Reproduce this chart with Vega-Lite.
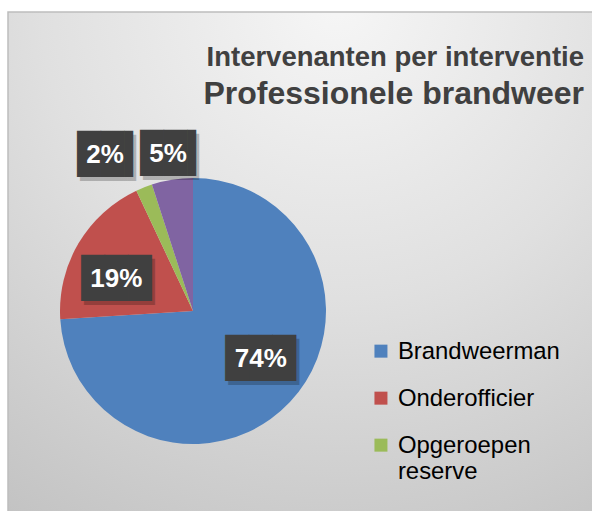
{
  "$schema": "https://vega.github.io/schema/vega-lite/v6.json",
  "width": 370,
  "height": 400,
  "autosize": {"type": "none"},
  "padding": {"left": 8, "top": 111, "right": 214, "bottom": 0},
  "background": "white",
  "config": {"view": {"stroke": null}, "font": "Liberation Sans"},
  "title": {
    "text": "Intervenanten per interventie",
    "subtitle": "Professionele brandweer",
    "anchor": "end",
    "frame": "group",
    "dx": 206,
    "offset": -99,
    "font": "Liberation Sans",
    "fontSize": 27.5,
    "fontWeight": "bold",
    "color": "#404040",
    "subtitleFont": "Liberation Sans",
    "subtitleFontSize": 32,
    "subtitleFontWeight": "bold",
    "subtitleColor": "#404040",
    "subtitlePadding": 8
  },
  "layer": [
    {
      "data": {"values": [{"achtergrond": "kader"}]},
      "mark": {
        "type": "rect",
        "x": 0, "x2": 600, "y": -99, "y2": 420,
        "stroke": "#bdbdbd",
        "strokeWidth": 1.5,
        "color": {
          "gradient": "radial",
          "x1": 0.55, "y1": 0.05, "r1": 0,
          "x2": 0.55, "y2": 0.05, "r2": 1.1,
          "stops": [
            {"offset": 0, "color": "#f6f6f6"},
            {"offset": 0.45, "color": "#e0e0e0"},
            {"offset": 1, "color": "#bebebe"}
          ]
        }
      },
      "encoding": {}
    },
    {
      "data": {"values": [
        {"categorie": "Brandweerman", "aandeel": 0.74},
        {"categorie": "Onderofficier", "aandeel": 0.19},
        {"categorie": "Opgeroepen reserve", "aandeel": 0.02},
        {"categorie": "Officier", "aandeel": 0.05}
      ]},
      "transform": [{"window": [{"op": "row_number", "as": "rij"}]}],
      "encoding": {
        "theta": {"field": "aandeel", "type": "quantitative", "stack": true},
        "order": {"field": "rij", "type": "quantitative"}
      },
      "layer": [
        {
          "mark": {"type": "arc", "outerRadius": 133},
          "encoding": {
            "color": {
              "field": "categorie",
              "type": "nominal",
              "scale": {
                "domain": ["Brandweerman", "Onderofficier", "Opgeroepen reserve", "Officier"],
                "range": ["#4f81bd", "#c0504d", "#9bbb59", "#8064a2"]
              },
              "legend": {
                "values": ["Brandweerman", "Onderofficier", "Opgeroepen reserve"],
                "title": null,
                "orient": "none",
                "legendX": 361,
                "legendY": 236,
                "padding": 0,
                "symbolType": "M-1,-2.2L1,-2.2L1,-0.2L-1,-0.2Z",
                "symbolSize": 169,
                "symbolStrokeWidth": 0,
                "labelFont": "Liberation Sans",
                "labelFontSize": 23.9,
                "labelColor": "#000000",
                "labelBaseline": "alphabetic",
                "labelOffset": 5,
                "labelLimit": 300,
                "rowPadding": 22,
                "labelExpr": "datum.label == 'Opgeroepen reserve' ? ['Opgeroepen', 'reserve'] : datum.label"
              }
            }
          }
        },
        {
          "mark": {"type": "text", "radius": 83, "thetaOffset": -0.14, "dx": 3, "dy": 4, "font": "DejaVu Sans Mono", "fontSize": 39, "color": "#000000", "opacity": 0.22, "baseline": "middle", "align": "center"},
          "encoding": {"text": {"condition": {"test": "datum.aandeel >= 0.1", "value": "███"}, "value": ""}}
        },
        {
          "mark": {"type": "text", "radius": 179, "thetaOffset": -0.136, "dx": 10.3, "dy": 4, "font": "DejaVu Sans Mono", "fontSize": 39, "color": "#000000", "opacity": 0.22, "baseline": "middle", "align": "center"},
          "encoding": {"text": {"condition": {"test": "datum.categorie == 'Opgeroepen reserve'", "value": "██▍"}, "value": ""}}
        },
        {
          "mark": {"type": "text", "radius": 159, "thetaOffset": 0.0, "dx": 10.3, "dy": 4, "font": "DejaVu Sans Mono", "fontSize": 39, "color": "#000000", "opacity": 0.22, "baseline": "middle", "align": "center"},
          "encoding": {"text": {"condition": {"test": "datum.categorie == 'Officier'", "value": "██▍"}, "value": ""}}
        },
        {
          "mark": {"type": "text", "radius": 83, "thetaOffset": -0.14, "font": "DejaVu Sans Mono", "fontSize": 39, "color": "#404040", "baseline": "middle", "align": "center"},
          "encoding": {"text": {"condition": {"test": "datum.aandeel >= 0.1", "value": "███"}, "value": ""}}
        },
        {
          "mark": {"type": "text", "radius": 179, "thetaOffset": -0.136, "dx": 7.3, "font": "DejaVu Sans Mono", "fontSize": 39, "color": "#404040", "baseline": "middle", "align": "center"},
          "encoding": {"text": {"condition": {"test": "datum.categorie == 'Opgeroepen reserve'", "value": "██▍"}, "value": ""}}
        },
        {
          "mark": {"type": "text", "radius": 159, "thetaOffset": 0.0, "dx": 7.3, "font": "DejaVu Sans Mono", "fontSize": 39, "color": "#404040", "baseline": "middle", "align": "center"},
          "encoding": {"text": {"condition": {"test": "datum.categorie == 'Officier'", "value": "██▍"}, "value": ""}}
        },
        {
          "mark": {"type": "text", "radius": 83, "thetaOffset": -0.14, "font": "Liberation Sans", "fontWeight": "bold", "fontSize": 26, "color": "#ffffff", "baseline": "middle", "align": "center"},
          "encoding": {"text": {"condition": {"test": "datum.aandeel >= 0.1", "field": "aandeel", "type": "quantitative", "format": ".0%"}, "value": ""}}
        },
        {
          "mark": {"type": "text", "radius": 179, "thetaOffset": -0.136, "font": "Liberation Sans", "fontWeight": "bold", "fontSize": 26, "color": "#ffffff", "baseline": "middle", "align": "center"},
          "encoding": {"text": {"condition": {"test": "datum.categorie == 'Opgeroepen reserve'", "field": "aandeel", "type": "quantitative", "format": ".0%"}, "value": ""}}
        },
        {
          "mark": {"type": "text", "radius": 159, "thetaOffset": 0.0, "font": "Liberation Sans", "fontWeight": "bold", "fontSize": 26, "color": "#ffffff", "baseline": "middle", "align": "center"},
          "encoding": {"text": {"condition": {"test": "datum.categorie == 'Officier'", "field": "aandeel", "type": "quantitative", "format": ".0%"}, "value": ""}}
        }
      ]
    }
  ]
}
